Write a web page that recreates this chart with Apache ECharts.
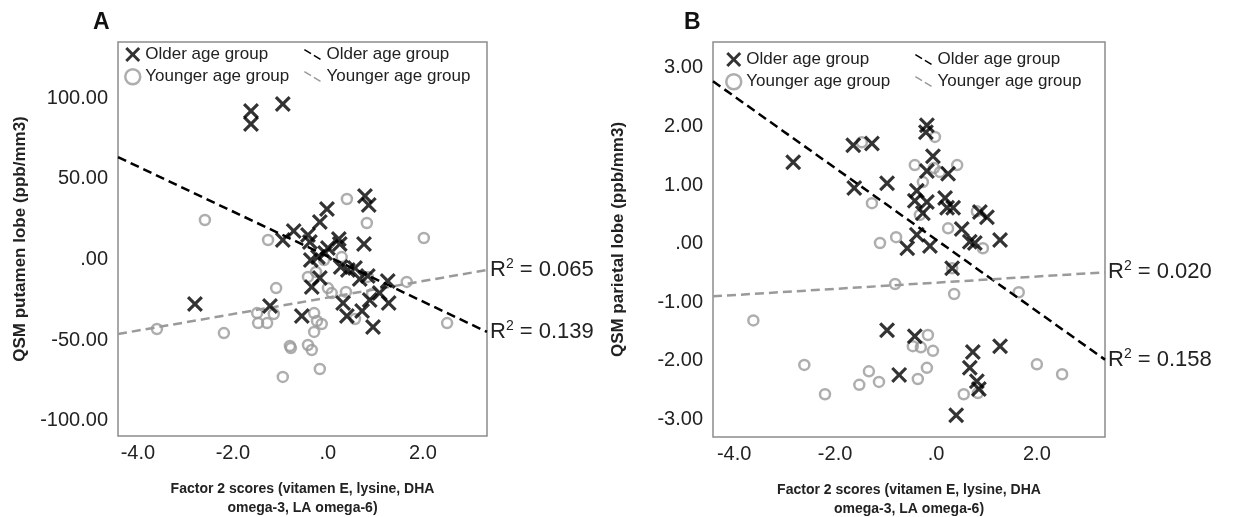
<!DOCTYPE html>
<html>
<head>
<meta charset="utf-8">
<script src="https://cdn.jsdelivr.net/npm/echarts@6/dist/echarts.min.js"></script>
<style>
html,body{margin:0;padding:0;background:#fff;}
#chart{width:1237px;height:517px;}
</style>
</head>
<body>
<div id="chart"></div>
<script>
// ---------- DATA ----------
const panelTitles = ['A', 'B'];
const yAxisNames = ['QSM putamen lobe (ppb/mm3)', 'QSM parietal lobe (ppb/mm3)'];
const xAxisName = 'Factor 2 scores (vitamen E, lysine, DHA\nomega-3, LA omega-6)';
const legendLabels = { old: 'Older age group', young: 'Younger age group' };
const xTicks = [-4, -2, 0, 2];
const yTicksA = [-100, -50, 0, 50, 100];
const yTicksB = [-3, -2, -1, 0, 1, 2, 3];
const xRange = [-4.42, 3.35];
const yRangeA = [-109.4, 134.8];
const yRangeB = [-3.30, 3.44];

const olderA = [
  [-1.62, 92.1], [-1.62, 84.0], [-0.95, 96.4], [0.78, 39.4], [0.86, 33.8], [-0.02, 31.3],
  [-0.17, 23.2], [-0.72, 17.7], [-0.95, 12.1], [-0.42, 15.2], [-0.38, 10.8], [0.23, 12.7],
  [0.25, 9.6], [0.76, 9.6], [0.00, 7.1], [-0.06, 4.0], [-0.36, -0.3], [-0.21, 1.5],
  [0.27, -4.6], [0.42, -6.5], [0.57, -5.3], [0.67, -12.1], [0.84, -10.2], [1.26, -13.3],
  [-0.17, -11.5], [-0.34, -17.0], [1.09, -20.8], [1.28, -27.0], [0.88, -25.1], [0.32, -27.0],
  [0.72, -31.9], [-0.55, -35.0], [0.40, -35.0], [0.95, -41.8], [-2.80, -27.6], [-1.22, -28.8]
];
const youngerA = [
  [0.40, 37.5], [-2.59, 24.5], [0.82, 22.6], [2.02, 13.3], [-1.26, 12.1], [0.29, 1.5],
  [-0.08, -0.3], [-0.25, -7.7], [-0.42, -10.8], [-1.09, -17.7], [0.00, -17.7], [0.08, -20.8],
  [0.38, -20.1], [0.84, -10.8], [1.66, -13.9], [0.93, -21.4], [-1.49, -33.2], [-1.14, -33.8],
  [-1.47, -39.4], [-1.28, -39.4], [-0.29, -33.2], [-0.23, -38.1], [-0.13, -40.0], [-0.29, -44.9],
  [-0.80, -53.6], [-0.42, -53.0], [-0.34, -56.1], [-0.17, -67.9], [-0.95, -72.8], [0.57, -36.9],
  [2.51, -39.4], [-3.60, -43.1], [-2.19, -45.6], [-0.78, -54.9]
];
const olderB = [
  [-0.18, 2.02], [-0.20, 1.90], [-1.27, 1.71], [-1.64, 1.68], [-2.83, 1.39], [-0.06, 1.49],
  [-0.97, 1.03], [-1.62, 0.95], [-0.18, 1.24], [0.24, 1.19], [-0.38, 0.90], [-0.42, 0.73],
  [-0.18, 0.71], [-0.26, 0.52], [0.18, 0.78], [0.22, 0.61], [0.34, 0.61], [0.87, 0.54],
  [1.01, 0.45], [0.51, 0.25], [-0.38, 0.15], [-0.57, -0.08], [-0.12, -0.04], [0.67, 0.03],
  [0.77, 0.01], [1.27, 0.06], [0.32, -0.42], [-0.97, -1.48], [-0.42, -1.58], [-0.73, -2.24],
  [0.73, -1.85], [1.27, -1.75], [0.67, -2.12], [0.81, -2.35], [0.85, -2.48], [0.40, -2.93]
];
const youngerB = [
  [-1.47, 1.73], [-0.02, 1.82], [-0.42, 1.34], [-0.04, 1.29], [0.08, 1.22], [0.42, 1.34],
  [-0.26, 1.05], [-1.27, 0.69], [-0.32, 0.49], [0.24, 0.26], [0.81, 0.55], [0.93, -0.08],
  [-1.11, 0.01], [-0.79, 0.11], [0.32, -0.42], [-0.81, -0.69], [0.36, -0.86], [1.64, -0.83],
  [-3.62, -1.31], [-0.16, -1.56], [-0.46, -1.75], [-0.30, -1.77], [-0.06, -1.83], [-2.61, -2.07],
  [-1.33, -2.18], [-0.18, -2.12], [-2.20, -2.57], [-1.52, -2.41], [-1.13, -2.36], [-0.36, -2.31],
  [0.55, -2.57], [0.83, -2.55], [2.00, -2.06], [2.50, -2.23]
];
// fit lines (endpoints at the axis limits)
const fitOlderA = [[-4.42, 63.5], [3.35, -44.9]];
const fitYoungerA = [[-4.42, -46.2], [3.35, -6.5]];
const fitOlderB = [[-4.42, 2.77], [3.35, -1.98]];
const fitYoungerB = [[-4.42, -0.90], [3.35, -0.49]];
const r2A = { old: '0.139', young: '0.065' };
const r2B = { old: '0.158', young: '0.020' };

// ---------- STYLE ----------
const FONT = '"Liberation Sans", Arial, sans-serif';
const XPATH = 'path://M0,1.4L1.4,0L5,3.6L8.6,0L10,1.4L6.4,5L10,8.6L8.6,10L5,6.4L1.4,10L0,8.6L3.6,5Z';
const LINEICON = 'path://M0,0L7,4.2L6.2,5.6L-0.8,1.4Z M10,6L17,10.2L16.2,11.6L9.2,7.4Z';
const BLACK = '#000';
const GRAY = '#9a9a9a';

function fmtY(v) {
  let s = Math.abs(v).toFixed(2);
  if (s.charAt(0) === '0') s = s.slice(1);
  return (v < 0 ? '-' : '') + s;
}
function fmtX(v) {
  let s = Math.abs(v).toFixed(1);
  if (s.charAt(0) === '0') s = s.slice(1);
  return (v < 0 ? '-' : '') + s;
}

const grids = [
  { left: 118, top: 42, width: 369, height: 394 },
  { left: 713, top: 42, width: 392, height: 395 }
];

const chart = echarts.init(document.getElementById('chart'), null, { renderer: 'canvas' });

function xAxisFor(i) {
  return {
    type: 'value', gridIndex: i, min: xRange[0], max: xRange[1],
    name: xAxisName, nameLocation: 'middle', nameGap: 44,
    nameTextStyle: { fontFamily: FONT, fontWeight: 'bold', fontSize: 14, color: '#222', lineHeight: 19 },
    axisLine: { show: false }, axisTick: { show: false }, splitLine: { show: false },
    axisLabel: { customValues: xTicks, formatter: fmtX, fontFamily: FONT, fontSize: 20, color: '#222', margin: 7 }
  };
}
function yAxisFor(i, rng, ticks) {
  return {
    type: 'value', gridIndex: i, min: rng[0], max: rng[1],
    name: yAxisNames[i], nameLocation: 'middle', nameGap: i === 0 ? 89 : 86, nameRotate: 90,
    nameTextStyle: { fontFamily: FONT, fontWeight: 'bold', fontSize: 17, color: '#222' },
    axisLine: { show: false }, axisTick: { show: false }, splitLine: { show: false },
    axisLabel: { customValues: ticks, formatter: fmtY, fontFamily: FONT, fontSize: 20, color: '#222', margin: 10 }
  };
}

const rich = {
  n: { fontFamily: FONT, fontSize: 22, color: '#222' },
  s: { fontFamily: FONT, fontSize: 14, color: '#222', padding: [0, 0, 12, 0] }
};

function scatterSeries(name, data, i, old) {
  return {
    name, type: 'scatter', xAxisIndex: i, yAxisIndex: i, data,
    symbol: old ? XPATH : 'circle', symbolSize: old ? 16 : 10,
    itemStyle: old ? { color: BLACK } : { color: 'rgba(255,255,255,0)', borderColor: GRAY, borderWidth: 2.5 },
    z: old ? 4 : 2, silent: true
  };
}
function fitSeries(name, data, i, old, r2) {
  return {
    name, type: 'line', xAxisIndex: i, yAxisIndex: i, data,
    showSymbol: false, symbol: 'none', silent: true,
    lineStyle: { color: old ? BLACK : GRAY, width: 2.5, type: [9, 5] },
    itemStyle: { color: old ? BLACK : GRAY },
    endLabel: { show: true, distance: 3, formatter: '{n|R}{s|2}{n| = ' + r2 + '}', rich },
    z: 3
  };
}

function legendFor(left, top, names, lineType) {
  return {
    orient: 'vertical', left, top, itemGap: 5, selectedMode: false,
    itemWidth: lineType ? 18 : 15, itemHeight: lineType ? 11 : 15,
    textStyle: { fontFamily: FONT, fontSize: 17, color: '#222' },
    formatter: (n) => (n.indexOf('old') >= 0 ? legendLabels.old : legendLabels.young),
    data: names.map((n) => {
      const old = n.indexOf('old') >= 0;
      if (lineType) return { name: n, icon: LINEICON, itemStyle: { color: old ? BLACK : GRAY } };
      return old
        ? { name: n, icon: XPATH, itemStyle: { color: BLACK } }
        : { name: n, icon: 'circle', itemStyle: { color: '#fff', borderColor: GRAY, borderWidth: 2.5 } };
    })
  };
}

const option = {
  animation: false,
  backgroundColor: '#fff',
  title: [
    { text: panelTitles[0], left: 88, top: 6, textStyle: { fontFamily: FONT, fontSize: 23, fontWeight: 'bold', color: '#111' } },
    { text: panelTitles[1], left: 679, top: 6, textStyle: { fontFamily: FONT, fontSize: 23, fontWeight: 'bold', color: '#111' } }
  ],
  grid: grids.map((g) => Object.assign({ show: true, borderColor: '#8c8c8c', borderWidth: 1.5, backgroundColor: 'transparent', outerBoundsMode: 'none', containLabel: false }, g)),
  xAxis: [xAxisFor(0), xAxisFor(1)],
  yAxis: [yAxisFor(0, yRangeA, yTicksA), yAxisFor(1, yRangeB, yTicksB)],
  legend: [
    legendFor(119, 41, ['A_old_pts', 'A_young_pts'], false),
    legendFor(299, 41, ['A_old_fit', 'A_young_fit'], true),
    legendFor(720, 46, ['B_old_pts', 'B_young_pts'], false),
    legendFor(910, 46, ['B_old_fit', 'B_young_fit'], true)
  ],
  series: [
    scatterSeries('A_young_pts', youngerA, 0, false),
    scatterSeries('A_old_pts', olderA, 0, true),
    fitSeries('A_old_fit', fitOlderA, 0, true, r2A.old),
    fitSeries('A_young_fit', fitYoungerA, 0, false, r2A.young),
    scatterSeries('B_young_pts', youngerB, 1, false),
    scatterSeries('B_old_pts', olderB, 1, true),
    fitSeries('B_old_fit', fitOlderB, 1, true, r2B.old),
    fitSeries('B_young_fit', fitYoungerB, 1, false, r2B.young)
  ]
};
chart.setOption(option);
</script>
</body>
</html>
